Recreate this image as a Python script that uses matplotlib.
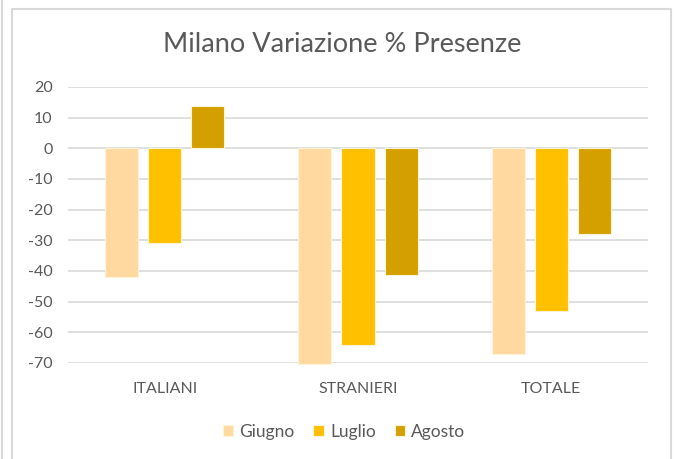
import matplotlib
matplotlib.use("Agg")
import matplotlib.pyplot as plt
import numpy as np
from matplotlib.lines import Line2D

categories = ["ITALIANI", "STRANIERI", "TOTALE"]
series_names = ["Giugno", "Luglio", "Agosto"]
giugno = [-42.0, -70.3, -67.2]
luglio = [-30.8, -64.2, -53.2]
agosto = [13.7, -41.2, -27.9]
series_values = [giugno, luglio, agosto]
colors = ["#FFD9A0", "#FFC000", "#D3A000"]
yticks = [20, 10, 0, -10, -20, -30, -40, -50, -60, -70]

plt.rcParams['font.family'] = ['Lato', 'DejaVu Sans']
txt = "#595959"

fig = plt.figure(figsize=(6.75, 4.59), dpi=100)
ax = fig.add_axes([68/675, 1-363/459, 580/675, 276/459])

x = np.arange(len(categories))
bw = 0.171
step = 0.223
for i, (name, vals, c) in enumerate(zip(series_names, series_values, colors)):
    ax.bar(x + (i-1)*step, vals, width=bw, color=c, edgecolor="#FFF3D6",
           linewidth=0.8, label=name, zorder=3, clip_on=False)

ax.set_xlim(-0.5, 2.5)
ax.set_ylim(-70, 20)
ax.set_yticks(yticks)
ax.set_yticklabels([str(v) for v in yticks])
ax.set_xticks(x)
ax.set_xticklabels(categories)
ax.yaxis.grid(True, color="#D9D9D9", linewidth=1.2, zorder=0)
ax.set_axisbelow(True)
for s in ax.spines.values():
    s.set_visible(False)
ax.tick_params(axis='both', length=0, colors=txt, labelsize=11.5)
ax.tick_params(axis='y', pad=11)
ax.tick_params(axis='x', pad=14)

fig.text(342/675, 1-45/459, "Milano Variazione % Presenze", ha='center', va='center',
         fontsize=19.5, color=txt)

leg = fig.legend(loc='center', bbox_to_anchor=(344/675, 1-432/459), ncol=3, frameon=False,
                 fontsize=12.5, handlelength=0.6, handleheight=0.6, handletextpad=0.35,
                 columnspacing=1.1, labelcolor=txt)

# chart frame lines
fig.add_artist(Line2D([2/675, 2/675], [0, 1], transform=fig.transFigure, color="#D9D9D9", lw=1.5))
fig.add_artist(Line2D([11.5/675, 11.5/675, 671/675, 671/675], [0, 1-8.5/459, 1-8.5/459, 0],
                      transform=fig.transFigure, color="#D9D9D9", lw=1.5))

fig.savefig("out.png", dpi=100)
